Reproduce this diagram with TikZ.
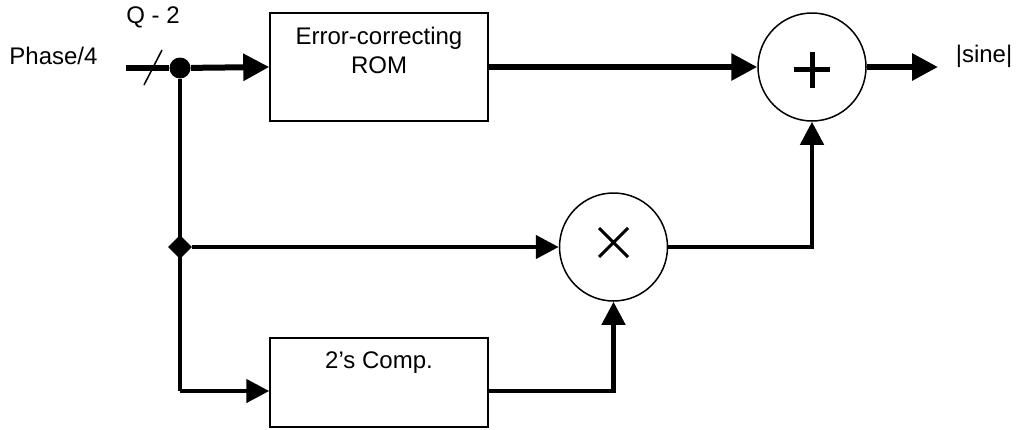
\documentclass[tikz,border=0pt]{standalone}
\usepackage{fontspec}
\setmainfont{Liberation Sans}
\usetikzlibrary{arrows.meta,shapes.geometric}

\begin{document}
\begin{tikzpicture}[x=0.5pt, y=-0.5pt]
	\tikzstyle{every node}=[align=center, inner sep=0pt, font=\fontsize{12}{14.5}\selectfont]
	\tikzstyle{block}=[draw, line width=0.75pt, minimum width=109pt, minimum height=54pt]
	\tikzstyle{sum}=[draw, circle, line width=0.75pt, minimum size=54pt]
	\tikzstyle{bus}=[line width=3pt, -{Triangle[length=13pt, width=13pt]}]
	\tikzstyle{wire}=[line width=2.25pt, -{Triangle[length=11.5pt, width=11.5pt]}]
	\useasboundingbox (0,0) rectangle (1016,429);

	\node (phase) [anchor=west] at (9,56) {Phase/4};
	\node (qbits) at (153,17.5) {Q - 2};
	\coordinate (src) at (126,68);
	\node (split) at (180,68) [circle, fill, minimum size=10.5pt] {};
	\node (tap) at (180,247) [diamond, fill, minimum size=12pt] {};
	\coordinate (low) at (180,391);

	\node (rom) at (379,67) [block] {};
	\node (romtext) [anchor=north] at (379,27) {Error-correcting\\ROM};
	\node (comp) at (379,382.5) [block, minimum height=44.5pt] {};
	\node (comptext) [anchor=base] at (379,368) {2's Comp.};

	\node (mul) at (613.5,247) [sum] {};
	\node (add) at (812,67) [sum] {};
	\coordinate (out) at (938,67);
	\node (sine) at (984,56) {|sine|};

	% phase bus and its width mark
	\draw[line width=3pt] (src) -- (split);
	\draw[line width=0.75pt] (144,85) -- (162,50);
	\draw[bus] (split) -- (rom.west);
	\draw[bus] (rom.east) -- (add.west);
	\draw[bus] (add.east) -- (out);

	% lower branches
	\draw[line width=2.25pt] (split) -- (low);
	\draw[wire] (low) -- (low -| comp.west);
	\draw[wire] (tap) -- (mul.west);
	\draw[wire] (comp.east |- low) -| (mul.south);
	\draw[wire] (mul.east) -| (add.south);

	% operator signs
	\draw[line width=2.5pt] (794,69.5) -- (830,69.5) (812,51.5) -- (812,87.5);
	\draw[line width=1.5pt] (599,228) -- (628,257) (599,257) -- (628,228);
\end{tikzpicture}
\end{document}
